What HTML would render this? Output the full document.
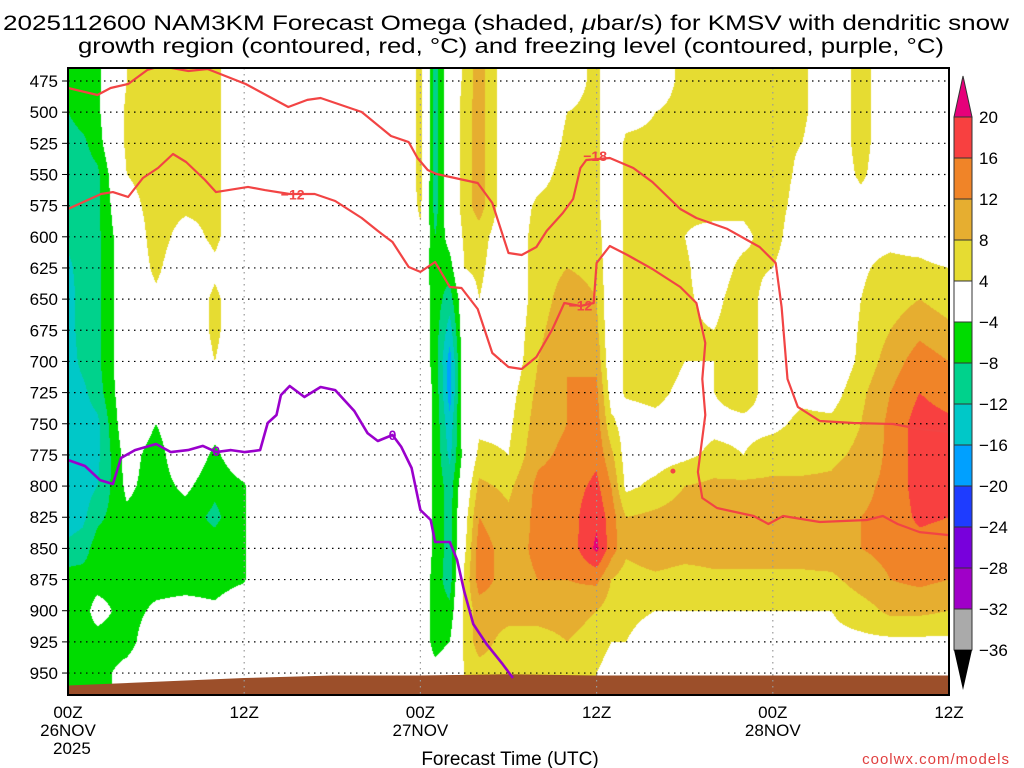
<!DOCTYPE html>
<html><head><meta charset="utf-8"><style>
body{margin:0;background:#fff}
#wrap{position:relative;width:1024px;height:768px;background:#fff;overflow:hidden}
canvas{position:absolute;left:68px;top:68px}
svg{position:absolute;left:0;top:0}
text{font-family:"Liberation Sans",sans-serif}
</style></head><body>
<div id="wrap">
<canvas id="shade" width="881" height="627"></canvas>
<svg id="ov" width="1024" height="768">
<text x="3" y="30" font-size="21" textLength="1006" lengthAdjust="spacingAndGlyphs">2025112600 NAM3KM Forecast Omega (shaded, <tspan font-style="italic">μ</tspan>bar/s) for KMSV with dendritic snow</text>
<text x="78" y="53" font-size="21" textLength="866" lengthAdjust="spacingAndGlyphs">growth region (contoured, red, °C) and freezing level (contoured, purple, °C)</text>
<text x="510" y="765" font-size="19" text-anchor="middle">Forecast Time (UTC)</text>
<text x="1010" y="764" font-size="15" text-anchor="end" fill="#e04040" letter-spacing="1">coolwx.com/models</text>
</svg>
</div>
<script>
const times=[0,1,2,4,6,8,10,12,13,23,24,25,26,27,28,30,32,34,36,37,38,40,42,44,46,48,50,52,54,56,58,60];
const levels=[475,500,525,550,575,600,625,650,675,700,725,750,775,800,825,850,875,900,925,950];
const omega=[
[-6,-8,-10,-10,-10,-11,-13,-14,-14,-14,-14,-14,-14,-14,-14,-11,-6,-6,-6,-6],
[-6,-6,-9,-10,-10,-10,-10,-10,-10,-11,-13,-14,-14,-14,-13,-10,-6,-6,-6,-6],
[-5,-5,-6,-9,-9,-9,-9,-9,-9,-9,-10,-13,-13,-12,-9,-6,-6,-2,-6,-6],
[4,5,5,4,2,0,0,0,0,0,0,0,-2,-3,-5,-6,-6,-6,-6,-2],
[6,6,6,6,6,6,5,3,0,0,-2,-4,-6,-6,-6,-6,-6,-3,0,0],
[4.5,5,6,6,5,2,0,0,0,0,0,0,0,-3,-6,-6,-6,-2,0,0],
[5,5,5,5,5,5,3,5,5,4,0,-2,-5,-7,-9,-6,-6,-3,0,0],
[0,0,0,0,0,0,0,0,0,0,0,0,0,-4.5,-4.5,-4.5,-4.5,0,0,0],
[0,0,0,0,0,0,0,0,0,0,0,0,0,0,0,0,0,0,0,0],
[0,0,0,0,0,0,0,0,0,0,0,0,0,0,0,0,0,0,0,0],
[6,6,6,6,5,3,0,0,0,0,0,0,0,0,0,0,0,0,0,0],
[-10,-10,-10,-10,-10,-8,-7,-6,-6,-6,-5,-5,-5,-5,-5,-5,-6,-6,-6,-2],
[0,0,0,0,0,-2,-6,-10,-14,-18,-18,-15,-13,-10,-10,-10,-10,-7,-4,0],
[5,6,6,6,6,5,4,0,0,0,0,0,-2,0,2,3,5,5,5,4],
[10,10,10,10,10,6,5,4,0,0,0,3,5,9,12,14,14,10,10,6],
[0,0,0,0,0,0,0,0,0,0,2,3,4,7,9,10,10,10,6,6],
[0,0,0,2,5,6,6,6,7,8,9,10,11,13,13,13,12,10,6,5],
[2,4,5,6,6,7,8,10,11,12,12,12,13,14,14,13,12,10,8,6],
[5,5,5,5,5,6,7,8,9,11,13,14,15,17,19,21,13,8,6,4],
[0,0,0,0,0,0,0,0,0,0,2,5,9,12,14,14,8,6,4,2],
[0,2,5,5,5,5,5,5,5,5,4.5,2,2,3,8,9,6,5,4,2],
[0,4,5,6,6,6,6,6,6,6,5,3,2,5,9,11,7,4,2,0],
[6,6,6,6,5,4,4.5,4.5,4.5,4,3,2,3,8,10,10,6,4,0,0],
[6,6,6,6,6,2,2,3,4,4,4,3,5,9,11,10,7,4,0,0],
[6,6,6,6,5,3,5,6,6,6,6,3,4,9,10,10,7,4,0,0],
[6,6,5,6,6,6,4,2,2,2,2,3,6,9,10,10,7,4,2,0],
[5,5,4,3,2,0,0,0,0,0,3,5,6,9,10,10,7,4,3,0],
[0,0,0,0,0,0,0,0,0,0,2,5,7,9,10,11,7,4,3,0],
[6,6,6,5,2,3,3.5,4,4.5,5,7,8,9,11,12,12,10,6,3,0],
[0,0,0,0,0,3,5,6,8,10,12,13,13,13,13,13,12,9,3,0],
[0,0,0,0,0,2,5,8,11,14,16,18,18,18,17,14,13,9,3,0],
[0,0,0,0,0,0,4,6,9,12,14,17,18,18,16,13,12,8,3,0]];
const groundT=[0,6,12,18,24,30,36,42,48,54,60];
const groundP=[960,957,954,952,952,951,952,952,952,952,952];
const m18T=[0,2.0,2.9,4.1,5.4,6.3,8.2,9.5,12.1,15.0,16.3,17.2,20.0,22.0,23.2,23.8,24.5,25.1,27.9,28.9,30.0,30.9,31.9,32.6,33.7,34.4,34.9,35.3,36.9,38.5,39.8,41.7,42.8,44.9,47.1,48.2,48.6,49.0,49.7,51.2,53.5,56.2,58.0,60];
const m18P=[480.6,486.2,480.6,477.4,466.2,463,467,465.4,477.4,495.9,490.2,488.6,499.9,519.1,524,536.8,546.4,549.6,556.8,572.9,613,614.6,608.2,595.3,580.9,569.7,544.8,538.4,536.8,544.8,556,577.7,584.9,593.7,608.2,621,656.3,714.1,736.5,747.8,749.4,750.2,754.2,756.6];
const m12T=[0,2.25,3.06,4.09,5.1,6.13,7.15,8.04,9.33,10.08,12.26,13.4,15.1,16.8,18.2,20.0,21.1,22.1,23.2,24.0,25.0,26.0,26.8,27.9,28.9,30.0,30.9,31.9,33.0,33.8,34.9,35.8,36.0,36.9,38.1,39.8,41.7,42.8,43.4,43.2,43.4,42.9,43.2,44.2,46.7,47.7,48.7,51.2,54.4,55.5,56.5,58.0,60];
const m12P=[577.7,565.7,564.1,568.1,552.8,544.8,533.6,540,554.4,564.1,560,562.5,565.7,565.7,571.3,584.9,595.3,604.2,624.2,628.2,620.2,640.3,641.1,657.9,693.2,704.5,706.1,696.4,674,653.1,655.5,653.1,621,607.4,614.6,625.8,640.3,653.1,685.2,714.1,743,788.7,809.6,817.6,824,830.4,824,828.8,827.2,824,830.4,836.9,839.3];
const frzT=[0,1.16,2.18,3.06,3.61,4.56,5.99,7.01,8.17,9.19,10.1,11.1,12.05,13.08,13.6,14.2,14.5,15.1,16.1,17.2,18.2,19.5,20.4,21.1,22.1,22.7,23.4,24.0,24.7,25.0,26.0,26.5,27.0,27.6,28.5,29.6,30.3];
const frzP=[779.1,783.9,795.2,798.3,777.5,771.1,766.2,772.7,771.1,767.8,772.7,771.1,772.7,771.1,749.4,743,727,719.7,728.5,720.5,723,739.8,757.5,763.8,759,768.6,785.5,819.2,827.2,844.9,844.9,859.3,885,910.7,926.7,942.8,954];
const labelText=["−18","−12","−12","0","0"];
const labelT=[35.9,15.3,34.9,10.1,22.1];
const labelP=[535,566,655,772,759];
const yTicks=[475,500,525,550,575,600,625,650,675,700,725,750,775,800,825,850,875,900,925,950];
const xTickT=[0,12,24,36,48,60];
const xTickL1=["00Z","12Z","00Z","12Z","00Z","12Z"];
const xTickL2=["26NOV","","27NOV","","28NOV",""];
const xTickL3=["2025","","","","",""];
const cbLevels=[20,16,12,8,4,-4,-8,-12,-16,-20,-24,-28,-32,-36];
const cbColors=["#f84040","#f08428","#e6ae30","#e6dc32","#ffffff","#00dc00","#00d28c","#00c8c8","#00a0ff","#1e3cff","#7800dc","#a000c8","#aaaaaa"];

const PX0=68,PX1=949,PY0=68,PY1=695;
function xOf(t){return PX0+t/60*(PX1-PX0);}
function yOf(p){return 81+(p-475)/25*31.16;}
function tOf(x){return (x-PX0)/(PX1-PX0)*60;}
function pOf(y){return 475+(y-81)/31.16*25;}
function colorOf(v){
  if(v>=20)return[230,0,122];
  for(let k=0;k<cbLevels.length-1;k++){ if(v>=cbLevels[k+1]) return hex(cbColors[k]); }
  return[0,0,0];
}
function hex(h){return[parseInt(h.substr(1,2),16),parseInt(h.substr(3,2),16),parseInt(h.substr(5,2),16)];}
function sample(t,p){
  let i=0;while(i<times.length-2&&t>times[i+1])i++;
  let j=0;while(j<levels.length-2&&p>levels[j+1])j++;
  let ft=(t-times[i])/(times[i+1]-times[i]);ft=Math.max(0,Math.min(1,ft));
  let fp=(p-levels[j])/(levels[j+1]-levels[j]);fp=Math.max(0,Math.min(1,fp));
  const a=omega[i][j],b=omega[i+1][j],c=omega[i][j+1],d=omega[i+1][j+1];
  return (a*(1-ft)+b*ft)*(1-fp)+(c*(1-ft)+d*ft)*fp;
}
const cv=document.getElementById('shade');const ctx=cv.getContext('2d');
const img=ctx.createImageData(cv.width,cv.height);
for(let j=0;j<cv.height;j++){const p=pOf(PY0+j+0.5);
  for(let i=0;i<cv.width;i++){const t=tOf(PX0+i+0.5);const c=colorOf(sample(t,p));const o=(j*cv.width+i)*4;
    img.data[o]=c[0];img.data[o+1]=c[1];img.data[o+2]=c[2];img.data[o+3]=255;}}
ctx.putImageData(img,0,0);

const NS='http://www.w3.org/2000/svg';const svg=document.getElementById('ov');
function mk(tag,attrs,parent){const e=document.createElementNS(NS,tag);for(const k in attrs)e.setAttribute(k,attrs[k]);(parent||svg).appendChild(e);return e;}
const clip=mk('clipPath',{id:'pc'});mk('rect',{x:PX0,y:PY0,width:PX1-PX0,height:PY1-PY0},clip);
let gd='M'+xOf(groundT[0])+','+PY1;
for(let k=0;k<groundT.length;k++)gd+=' L'+xOf(groundT[k])+','+yOf(groundP[k]);
gd+=' L'+xOf(groundT[groundT.length-1])+','+PY1+' Z';
const ground=mk('path',{d:gd,fill:'#9c4f2a'});


for(const p of yTicks){const g=mk('line',{x1:PX0,x2:PX1,y1:yOf(p),y2:yOf(p),stroke:'#000','stroke-width':1.2,'stroke-dasharray':'1.5,4.5'});


const tk=mk('line',{x1:PX0-6,x2:PX0,y1:yOf(p),y2:yOf(p),stroke:'#000','stroke-width':1});


const tl=mk('text',{x:PX0-10,y:yOf(p)+6,'font-size':17,'text-anchor':'end'});tl.textContent=p;

}
xTickT.forEach((t,k)=>{const x=xOf(t);
 if(k>0&&k<xTickT.length-1){const v=mk('line',{x1:x,x2:x,y1:PY0,y2:PY1,stroke:'#999','stroke-width':1.2,'stroke-dasharray':'1.5,4.5'});
 
 }
 [xTickL1[k],xTickL2[k],xTickL3[k]].forEach((s,r)=>{if(!s)return;const tx=mk('text',{x:x,y:718+r*18,'font-size':17,'text-anchor':r==2?'start':'middle'});
 if(r==2)tx.setAttribute('x',x-15);
 tx.textContent=s;
 
 });});
function line(T,P,col,w,name){let d='';for(let k=0;k<T.length;k++)d+=(k?' L':'M')+xOf(T[k]).toFixed(1)+','+yOf(P[k]).toFixed(1);
 const e=mk('path',{d:d,fill:'none',stroke:col,'stroke-width':w,'stroke-linejoin':'round','clip-path':'url(#pc)'});
 
 }
line(m18T,m18P,'#f24444',2.2,'contour-minus18');
line(m12T,m12P,'#f24444',2.2,'contour-minus12');
line(frzT,frzP,'#9a00cc',2.6,'freezing-level-line');
const dot=mk('circle',{cx:xOf(41.2),cy:yOf(788),r:2.5,fill:'#f24444'});


labelText.forEach((s,k)=>{const col=s==='0'?'#9a00cc':'#f24444';
 const t=mk('text',{x:xOf(labelT[k]),y:yOf(labelP[k])+5,'font-size':14,'font-weight':'bold','text-anchor':'middle',fill:col});t.textContent=s;
 
 });
const fr=mk('rect',{x:PX0,y:PY0,width:PX1-PX0,height:PY1-PY0,fill:'none',stroke:'#000','stroke-width':2});


const CBX=954,CBW=18,CBY0=117,CBH=41;
const cbTop=mk('polygon',{points:`${CBX},${CBY0} ${CBX+CBW},${CBY0} ${CBX+CBW/2},76`,fill:'#e6007a',stroke:'#333','stroke-width':1});


cbColors.forEach((c,k)=>{const r=mk('rect',{x:CBX,y:CBY0+k*CBH,width:CBW,height:CBH,fill:c,stroke:'#333','stroke-width':1});
 
 });
const cbEnd=CBY0+cbColors.length*CBH;
const cbBot=mk('polygon',{points:`${CBX},${cbEnd} ${CBX+CBW},${cbEnd} ${CBX+CBW/2},690`,fill:'#000'});


cbLevels.forEach((v,k)=>{const t=mk('text',{x:979,y:CBY0+k*CBH+6,'font-size':17});t.textContent=v<0?'−'+(-v):String(v);
 
 });
</script>
</body></html>
